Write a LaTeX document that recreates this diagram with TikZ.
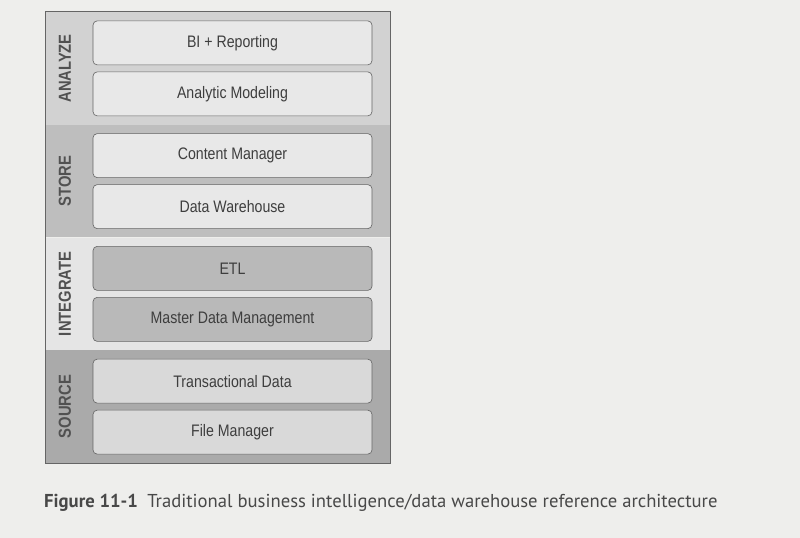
\documentclass[tikz,border=0pt]{standalone}
\usepackage{xcolor}
\usepackage{fontspec}
\setmainfont{Liberation Sans}[FakeStretch=0.85]
\newfontfamily\captionfont{PT Sans}
\usepackage{tikz}

\definecolor{pagegray}{RGB}{238,238,236}
\definecolor{analyzeband}{RGB}{210,210,210}
\definecolor{storeband}{RGB}{190,190,190}
\definecolor{integrateband}{RGB}{229,229,229}
\definecolor{sourceband}{RGB}{170,170,170}
\definecolor{lightbox}{RGB}{232,232,232}
\definecolor{darkbox}{RGB}{185,185,185}
\definecolor{sourcebox}{RGB}{217,217,217}
\definecolor{inkgray}{RGB}{62,62,62}

\begin{document}
\begin{tikzpicture}[
        layer/.style={rectangle, minimum width=11.467cm, minimum height=3.758cm, inner sep=0pt},
        part/.style={rectangle, rounded corners=4pt, minimum width=9.3cm, minimum height=1.467cm, draw=inkgray!80, line width=0.6pt, text=inkgray, font=\fontsize{15.8}{17}\selectfont},
        side/.style={rotate=90, text=inkgray!90, font=\bfseries\fontsize{16.5}{18}\selectfont}
    ]
        \fill[pagegray] (0,0) rectangle (26.667,-17.933);
        \useasboundingbox (0,0) rectangle (26.667,-17.933);
        % layers
        \node at (7.267,-2.28) [layer, fill=analyzeband] (analyze) {};
        \node at (7.267,-6.037) [layer, fill=storeband] (store) {};
        \node at (7.267,-9.796) [layer, fill=integrateband] (integrate) {};
        \node at (7.267,-13.554) [layer, fill=sourceband] (source) {};
        \draw[line width=1.1pt, draw=inkgray!80] (analyze.north west) rectangle (source.south east);
        % layer names
        \node at (2.167,-2.28) [side] (analyzename) {ANALYZE};
        \node at (2.167,-6.037) [side] (storename) {STORE};
        \node at (2.167,-9.796) [side] (integratename) {INTEGRATE};
        \node at (2.167,-13.554) [side] (sourcename) {SOURCE};
        % parts
        \node at (7.75,-1.43) [part, fill=lightbox] (bi) {BI + Reporting};
        \node at (7.75,-3.13) [part, fill=lightbox] (modeling) {Analytic Modeling};
        \node at (7.75,-5.187) [part, fill=lightbox] (content) {Content Manager};
        \node at (7.75,-6.887) [part, fill=lightbox] (warehouse) {Data Warehouse};
        \node at (7.75,-8.946) [part, fill=darkbox] (etl) {ETL};
        \node at (7.75,-10.646) [part, fill=darkbox] (mdm) {Master Data Management};
        \node at (7.75,-12.704) [part, fill=sourcebox] (transactional) {Transactional Data};
        \node at (7.75,-14.404) [part, fill=sourcebox] (filemanager) {File Manager};
        % caption
        \node at (1.467,-16.9) [anchor=base west, inner sep=0pt, text=inkgray!95, font=\captionfont\fontsize{17.7}{20}\selectfont] (caption) {\textbf{Figure 11-1}\hspace{0.5em}Traditional business intelligence/data warehouse reference architecture};
    \end{tikzpicture}
\end{document}
